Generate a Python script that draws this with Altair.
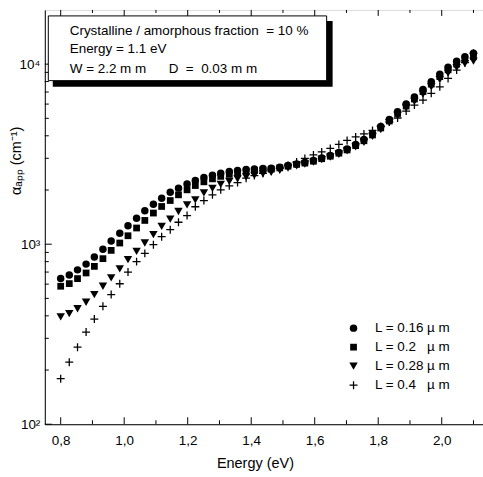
import altair as alt
import pandas as pd

NB = "\u00a0"

energy = [0.800, 0.827, 0.853, 0.880, 0.906, 0.933, 0.959, 0.986, 1.012, 1.039,
          1.065, 1.092, 1.118, 1.145, 1.171, 1.198, 1.224, 1.251, 1.278, 1.304,
          1.331, 1.357, 1.384, 1.410, 1.437, 1.463, 1.490, 1.516, 1.543, 1.569,
          1.596, 1.622, 1.649, 1.676, 1.702, 1.729, 1.755, 1.782, 1.808, 1.835,
          1.861, 1.888, 1.914, 1.941, 1.967, 1.994, 2.020, 2.047, 2.073, 2.100]

alpha_L016 = [644, 675, 720, 775, 849, 938, 1042, 1151, 1266, 1393,
              1533, 1666, 1798, 1942, 2048, 2158, 2257, 2345, 2418, 2480,
              2531, 2564, 2597, 2620, 2630, 2644, 2678, 2733, 2793, 2847,
              2920, 3015, 3113, 3234, 3381, 3581, 3816, 4121, 4506, 4926,
              5441, 6003, 6566, 7241, 7979, 8803, 9625, 10390, 11000, 11510]

alpha_L02 = [584, 604, 644, 692, 753, 831, 924, 1015, 1114, 1230,
             1355, 1489, 1620, 1748, 1880, 2004, 2117, 2220, 2306, 2381,
             2442, 2489, 2531, 2564, 2586, 2610, 2654, 2712, 2775, 2821,
             2890, 2984, 3081, 3201, 3338, 3527, 3754, 4043, 4420, 4833,
             5319, 5852, 6400, 7041, 7748, 8525, 9298, 10000, 10590, 11000]

alpha_L028 = [395, 411, 438, 476, 525, 584, 650, 729, 821, 912,
              1015, 1129, 1255, 1379, 1519, 1655, 1764, 1929, 2043, 2150,
              2234, 2306, 2366, 2412, 2458, 2506, 2570, 2644, 2722, 2782,
              2854, 2946, 3042, 3160, 3296, 3469, 3683, 3966, 4337, 4730,
              5198, 5705, 6215, 6821, 7485, 8206, 8916, 9564, 10060, 10390]

alpha_L04 = [179, 221, 268, 325, 384, 452, 525, 603, 700, 800,
             889, 994, 1100, 1203, 1324, 1442, 1614, 1748, 1880, 2004,
             2109, 2200, 2327, 2406, 2474, 2554, 2637, 2740, 2865, 2996,
             3132, 3255, 3403, 3581, 3769, 3941, 4095, 4282, 4506, 4772,
             5022, 5490, 5927, 6318, 6882, 7485, 8333, 9264, 10190, 11510]

series_names = [
    "L = 0.16 µ m",
    "L = 0.2" + NB * 3 + "µ m",
    "L = 0.28 µ m",
    "L = 0.4" + NB * 3 + "µ m",
]
series_values = [alpha_L016, alpha_L02, alpha_L028, alpha_L04]

x_major = [0.8, 1.0, 1.2, 1.4, 1.6, 1.8, 2.0]
x_minor = [0.9, 1.1, 1.3, 1.5, 1.7, 1.9, 2.1]
y_major = [100, 1000, 10000]
y_major_labels = ["10²", "10³", "10⁴"]
y_minor = [200, 300, 400, 500, 600, 700, 800, 900,
           2000, 3000, 4000, 5000, 6000, 7000, 8000, 9000]

info_lines = [
    "Crystalline / amorphous fraction" + NB * 2 + "= 10 %",
    "Energy = 1.1 eV",
    "W = 2.2 m m" + NB * 6 + "D" + NB + " = " + NB + "0.03 m m",
]

W, H = 440, 416
FONT = "Liberation Sans"

xscale = alt.Scale(domain=[0.75, 2.13], nice=False, zero=False)
yscale = alt.Scale(type="log", domain=[100, 20000], nice=False)

ylabel_expr = " : ".join(
    f"datum.value == {v} ? '{l}'" for v, l in zip(y_major, y_major_labels)
) + " : ''"

xaxis = alt.Axis(
    values=x_major, labelExpr="replace(format(datum.value, '.1f'), '.', ',')",
    ticks=False, grid=False, domainColor="black", labelFontSize=13.5, labelPadding=9,
    labelColor="black", title="Energy (eV)", titleFontSize=14.5, titleFontWeight="normal",
    titleColor="black", titleX=211, titleY=39, titleBaseline="middle", titleAlign="center")
yaxis = alt.Axis(
    values=y_major, labelExpr=ylabel_expr, ticks=False, grid=False, domainColor="black",
    labelFontSize=13.5, labelPadding=5, labelColor="black",
    title="αₐₚₚ (cm⁻¹)", titleFontSize=14.5, titleFontWeight="normal", titleColor="black",
    titleX=-28, titleY=151, titleBaseline="middle", titleAlign="center")

plus_path = "M-1,-0.16H-0.16V-1H0.16V-0.16H1V0.16H0.16V1H-0.16V0.16H-1Z"
shapes = ["circle", "square", "triangle-down", plus_path]
sizes = [56, 46, 72, 64]

series_layers = []
for name, vals, shp, sz in zip(series_names, series_values, shapes, sizes):
    d = pd.DataFrame({"E": energy, "alpha": vals, "series": name})
    series_layers.append(
        alt.Chart(d).mark_point(shape=shp, size=sz, filled=True, opacity=1,
                                color="black", strokeWidth=0).encode(
            x=alt.X("E:Q", scale=xscale, axis=xaxis),
            y=alt.Y("alpha:Q", scale=yscale, axis=yaxis),
        )
    )

one = pd.DataFrame({"k": [0]})

legend_layers = []
for i, (name, shp, sz) in enumerate(zip(series_names, shapes, sizes)):
    yy = 319.5 + i * 19.1
    legend_layers.append(
        alt.Chart(one).mark_point(shape=shp, size=sz, filled=True, opacity=1,
                                  color="black", strokeWidth=0).encode(
            x=alt.value(310), y=alt.value(yy)))
    legend_layers.append(
        alt.Chart(one).mark_text(align="left", baseline="middle", fontSize=13.5,
                                 font=FONT, color="black").encode(
            x=alt.value(331.5), y=alt.value(yy), text=alt.value(name)))

def hticks(vals, y0, y1):
    return alt.Chart(pd.DataFrame({"E": vals})).mark_rule(color="black", strokeWidth=1).encode(
        x=alt.X("E:Q", scale=xscale, axis=xaxis), y=alt.value(y0), y2=alt.value(y1))

def vticks(vals, x0, x1):
    return alt.Chart(pd.DataFrame({"alpha": vals})).mark_rule(color="black", strokeWidth=1).encode(
        y=alt.Y("alpha:Q", scale=yscale, axis=yaxis), x=alt.value(x0), x2=alt.value(x1))

shadow = alt.Chart(one).mark_rect(color="black").encode(
    x=alt.value(8), x2=alt.value(289), y=alt.value(11), y2=alt.value(77))
box = alt.Chart(one).mark_rect(fill="white", stroke="black", strokeWidth=1).encode(
    x=alt.value(3.5), x2=alt.value(283), y=alt.value(6), y2=alt.value(71))

texts = []
for line, yy in zip(info_lines, [21, 39.5, 59]):
    texts.append(alt.Chart(one).mark_text(align="left", baseline="middle", fontSize=13.5,
                                          font=FONT, color="black").encode(
        x=alt.value(25), y=alt.value(yy), text=alt.value(line)))

chart = alt.layer(
    *series_layers,
    hticks(x_major, H, H - 7), hticks(x_minor, H, H - 4),
    hticks(x_major, 0, 6), hticks(x_minor, 0, 3),
    vticks(y_major, 0, 7), vticks(y_minor, 0, 4),
    shadow, box, *texts, *legend_layers,
).properties(
    width=W, height=H,
    padding={"left": 45, "top": 9, "right": 0, "bottom": 52},
    autosize=alt.AutoSizeParams(type="none"),
).configure_view(stroke="black", strokeWidth=1).configure_axis(
    labelFont=FONT, titleFont=FONT
).configure(background="white")

chart.save("out.html", embed_options={"renderer": "svg", "actions": False})
